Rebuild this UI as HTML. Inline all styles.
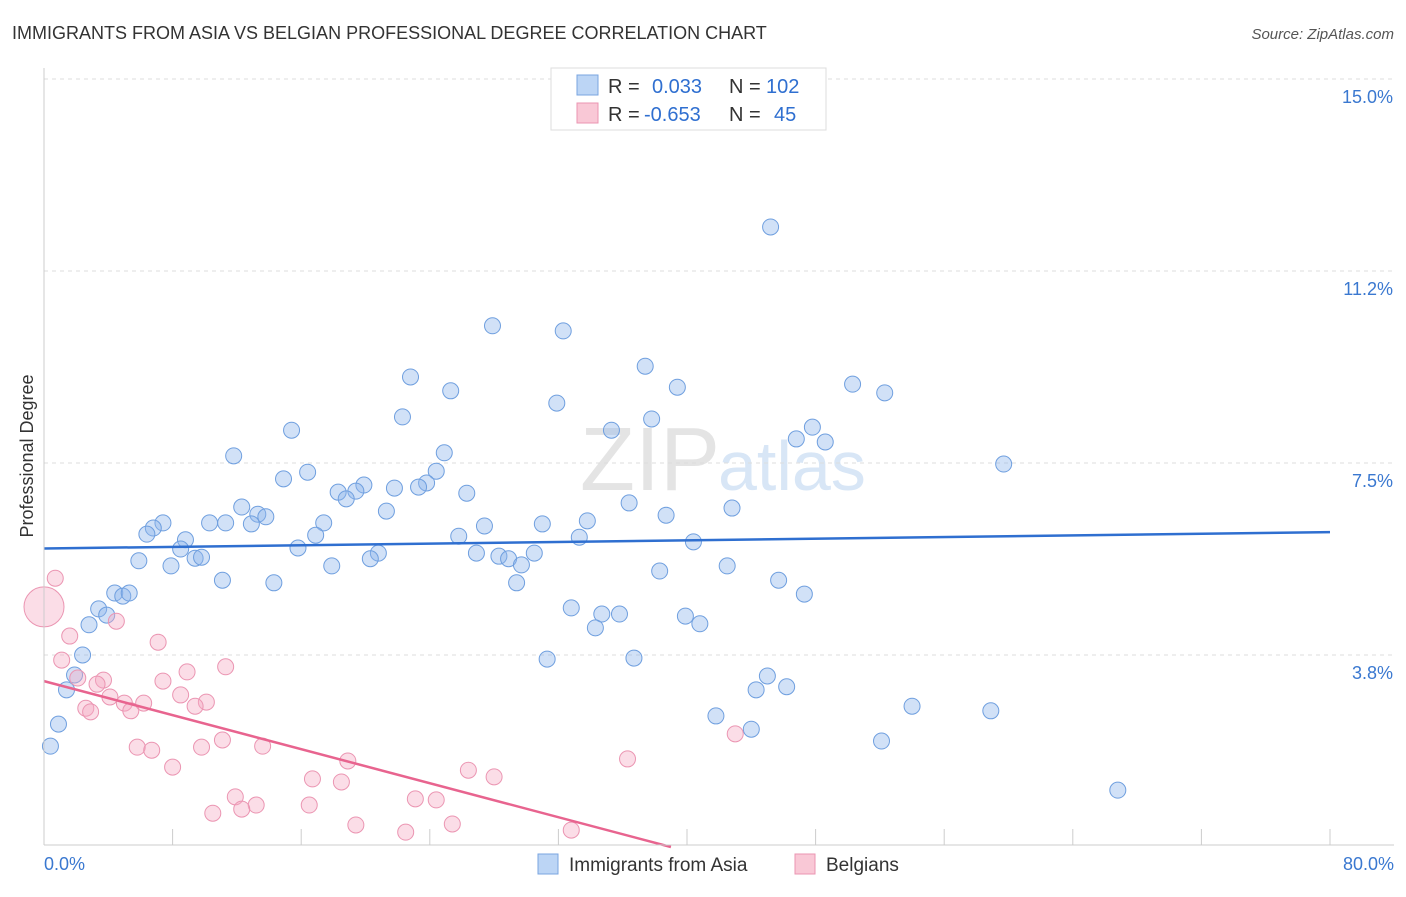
<!DOCTYPE html>
<html><head><meta charset="utf-8"><style>
body{margin:0;background:#fff;font-family:"Liberation Sans",sans-serif;}
svg text{font-family:"Liberation Sans",sans-serif;}
</style></head><body>
<svg id="chart" width="1406" height="892" xmlns="http://www.w3.org/2000/svg">
<text x="12" y="39" font-size="18" fill="#333">IMMIGRANTS FROM ASIA VS BELGIAN PROFESSIONAL DEGREE CORRELATION CHART</text>
<text x="1394" y="39" font-size="15" fill="#555" font-style="italic" text-anchor="end">Source: ZipAtlas.com</text>
<text x="720" y="490" font-size="90" fill="#e4e4e4" text-anchor="end" font-family="Liberation Serif">ZIP</text>
<text x="718" y="490" font-size="70" fill="#d8e6f6">atlas</text>
<text transform="translate(33,456) rotate(-90)" font-size="18" fill="#333" text-anchor="middle">Professional Degree</text>
<g id="grid"></g><g id="marks"></g><g id="axes"></g>
<g>
<rect x="551" y="68" width="275" height="62" fill="#fff" stroke="#ddd"/>
<rect x="577" y="75" width="21" height="20" fill="#bcd5f5" stroke="#7aa5e0"/>
<rect x="577" y="103" width="21" height="20" fill="#f9c8d6" stroke="#eb95b2"/>
<text x="608" y="93" font-size="20" fill="#333">R =</text><text x="652" y="93" font-size="20" fill="#2f6fd0">0.033</text>
<text x="729" y="93" font-size="20" fill="#333">N =</text><text x="766" y="93" font-size="20" fill="#2f6fd0">102</text>
<text x="608" y="121" font-size="20" fill="#333">R =</text><text x="644" y="121" font-size="20" fill="#2f6fd0">-0.653</text>
<text x="729" y="121" font-size="20" fill="#333">N =</text><text x="774" y="121" font-size="20" fill="#2f6fd0">45</text>
</g>
<text x="44" y="870" font-size="18" fill="#3a78d0">0.0%</text>
<text x="1394" y="870" font-size="18" fill="#3a78d0" text-anchor="end">80.0%</text>
<rect x="538" y="854" width="20" height="20" fill="#bcd5f5" stroke="#7aa5e0"/>
<text x="569" y="871" font-size="19" fill="#333">Immigrants from Asia</text>
<rect x="795" y="854" width="20" height="20" fill="#f9c8d6" stroke="#eb95b2"/>
<text x="826" y="871" font-size="19" fill="#333">Belgians</text>
</svg>
<script>
const yTicks=[3.75,7.5,11.25,15];
const yTickLabels=["3.8%","7.5%","11.2%","15.0%"];
const xTicks=[0,8,16,24,32,40,48,56,64,72,80];
const asiaX=[45.2,27.9,32.3,22.8,37.4,25.3,39.4,50.3,52.3,31.9,22.3,37.8,35.3,15.4,47.8,46.8,48.6,11.8,24.9,59.7,16.4,24.4,14.9,23.8,23.3,21.8,19.9,19.4,18.3,18.8,26.3,12.3,13.3,13.8,21.3,36.4,42.8,38.7,7.4,6.8,6.4,10.3,11.3,12.9,17.4,16.9,27.4,31.0,33.8,25.8,33.3,40.4,8.8,8.5,15.8,20.8,20.3,26.9,28.3,28.9,30.5,29.7,5.9,7.9,9.4,9.8,17.9,38.3,42.5,11.1,14.3,29.4,45.7,4.4,4.9,5.3,47.3,3.4,3.9,32.8,34.7,35.8,39.9,40.8,34.3,2.8,2.4,31.3,36.7,1.9,1.4,45.0,44.3,46.2,54.0,58.9,41.8,44.0,0.9,0.4,52.1,66.8];
const asiaY=[12.11,10.18,10.08,9.18,9.39,8.91,8.98,9.04,8.87,8.67,8.40,8.36,8.14,8.14,8.20,7.97,7.91,7.64,7.70,7.48,7.32,7.34,7.19,7.11,7.03,7.01,7.07,6.95,6.93,6.80,6.91,6.64,6.50,6.45,6.56,6.72,6.62,6.48,6.33,6.23,6.11,6.33,6.33,6.31,6.33,6.09,6.27,6.31,6.37,6.07,6.05,5.96,6.00,5.82,5.84,5.74,5.63,5.74,5.68,5.63,5.74,5.51,5.59,5.49,5.64,5.66,5.49,5.39,5.49,5.21,5.16,5.16,5.21,4.96,4.90,4.96,4.94,4.65,4.53,4.67,4.55,4.55,4.51,4.36,4.28,4.34,3.75,3.67,3.69,3.36,3.07,3.34,3.07,3.13,2.75,2.66,2.56,2.30,2.40,1.97,2.07,1.11];
const belX=[0,0.7,1.6,4.5,7.1,1.1,2.1,3.7,3.3,8.9,11.3,7.4,4.1,8.5,5.0,6.2,10.1,2.6,2.9,5.4,9.4,11.1,5.8,6.7,9.8,13.6,8.0,18.9,26.4,28.0,16.7,18.5,36.3,43.0,11.9,23.1,24.4,13.2,16.5,10.5,12.3,19.4,25.4,22.5,32.8];
const belY=[4.69,5.25,4.12,4.41,4.00,3.65,3.30,3.26,3.18,3.42,3.52,3.24,2.93,2.97,2.81,2.81,2.83,2.71,2.64,2.66,2.75,2.09,1.95,1.89,1.95,1.97,1.56,1.68,1.50,1.37,1.33,1.27,1.72,2.21,0.98,0.94,0.92,0.82,0.82,0.66,0.74,0.43,0.45,0.29,0.33];
const belSize=[20,8,8,8,8,8,8,8,8,8,8,8,8,8,8,8,8,8,8,8,8,8,8,8,8,8,8,8,8,8,8,8,8,8,8,8,8,8,8,8,8,8,8,8,8];
const asiaTrendX=[0,80], asiaTrendY=[5.83,6.15];
const belTrendX=[0,39], belTrendY=[3.24,0];
const NS="http://www.w3.org/2000/svg";
function sx(v){return 44+v*16.075;}
function sy(v){return 847-v*51.2;}
function mk(t,a,p){const e=document.createElementNS(NS,t);for(const k in a)e.setAttribute(k,a[k]);p.appendChild(e);return e;}
const grid=document.getElementById('grid'),marks=document.getElementById('marks'),axes=document.getElementById('axes');
yTicks.forEach((v,i)=>{
 const l=mk('line',{x1:44,x2:1394,y1:sy(v),y2:sy(v),stroke:'#ddd','stroke-dasharray':'4,4'},grid);
 
 
 const t=mk('text',{x:1393,y:sy(v)+24,'font-size':18,fill:'#3a78d0','text-anchor':'end'},grid);
 t.textContent=yTickLabels[i];
 
 
});
const ya=mk('line',{x1:44,x2:44,y1:68,y2:845,stroke:'#ccc'},axes);


const xa=mk('line',{x1:44,x2:1394,y1:845,y2:845,stroke:'#ccc'},axes);


xTicks.forEach(v=>{
 const t=mk('line',{x1:sx(v),x2:sx(v),y1:829,y2:845,stroke:'#ccc'},axes);
 
 
});
asiaX.forEach((x,i)=>{
 const c=mk('circle',{cx:sx(x),cy:sy(asiaY[i]),r:8,fill:'rgba(140,180,235,0.4)',stroke:'#6f9fdf','stroke-width':1},marks);
 
 
});
belX.forEach((x,i)=>{
 const c=mk('circle',{cx:sx(x),cy:sy(belY[i]),r:belSize[i],fill:'rgba(245,170,195,0.4)',stroke:'#eb95b2','stroke-width':1},marks);
 
 
});
const t1=mk('line',{x1:sx(asiaTrendX[0]),y1:sy(asiaTrendY[0]),x2:sx(asiaTrendX[1]),y2:sy(asiaTrendY[1]),stroke:'#2f6fd0','stroke-width':2.5},marks);


const t2=mk('line',{x1:sx(belTrendX[0]),y1:sy(belTrendY[0]),x2:sx(belTrendX[1]),y2:sy(belTrendY[1]),stroke:'#e8648f','stroke-width':2.5},marks);


</script>
</body></html>
